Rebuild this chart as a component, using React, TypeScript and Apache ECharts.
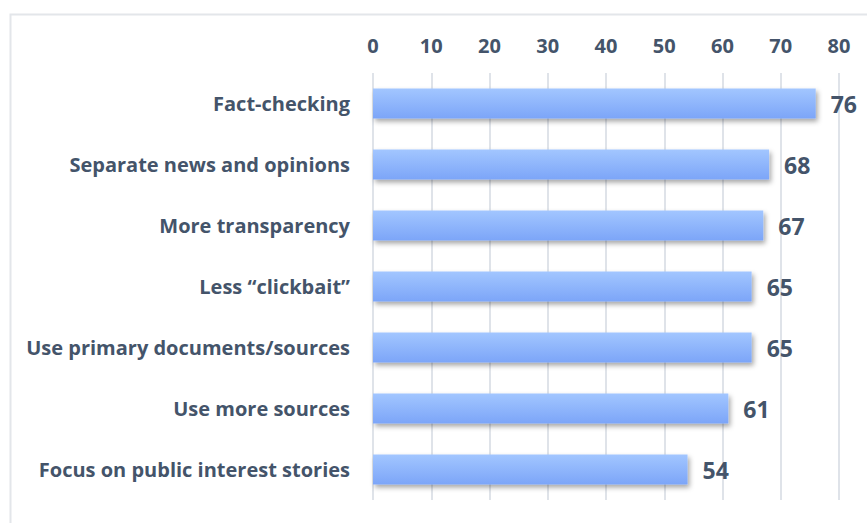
import React, { useEffect, useRef } from "react";
import * as echarts from "echarts";

const categories = [
  "Fact-checking",
  "Separate news and opinions",
  "More transparency",
  "Less \u201cclickbait\u201d",
  "Use primary documents/sources",
  "Use more sources",
  "Focus on public interest stories",
];
const values = [76, 68, 67, 65, 65, 61, 54];
const axisMin = 0;
const axisMax = 80;
const axisStep = 10;

const TEXT = "#44546a";
const FONT = "'Open Sans', Lato, sans-serif";

export default function App() {
  const ref = useRef<HTMLDivElement>(null);
  useEffect(() => {
    if (!ref.current) return;
    const chart = echarts.init(ref.current, undefined, { renderer: "svg" });
    chart.setOption({
      animation: false,
      backgroundColor: "#ffffff",
      graphic: [
        {
          type: "rect",
          left: 8,
          top: 12,
          shape: { x: 0, y: 0, width: 880, height: 530 },
          style: { fill: "none", stroke: "#e3e6ea", lineWidth: 2 },
          silent: true,
          z: -1,
        },
      ],
      grid: { left: 373, right: 28, top: 73, bottom: 23, containLabel: false },
      xAxis: {
        type: "value",
        position: "top",
        min: axisMin,
        max: axisMax,
        interval: axisStep,
        axisLine: { show: false },
        axisTick: { show: false },
        splitLine: { show: true, lineStyle: { color: "#dfe3e9", width: 2 } },
        axisLabel: {
          color: TEXT,
          fontFamily: FONT,
          fontWeight: "bold",
          fontSize: 20,
          margin: 18,
        },
      },
      yAxis: {
        type: "category",
        inverse: true,
        data: categories,
        axisLine: { show: false },
        axisTick: { show: false },
        splitLine: { show: false },
        axisLabel: {
          color: TEXT,
          fontFamily: FONT,
          fontWeight: "bold",
          fontSize: 20,
          margin: 23,
        },
      },
      series: [
        {
          type: "bar",
          data: values,
          barWidth: 30,
          itemStyle: {
            color: new echarts.graphic.LinearGradient(0, 0, 0, 1, [
              { offset: 0, color: "#a2c6ff" },
              { offset: 1, color: "#7ca5f8" },
            ]),
            shadowColor: "rgba(0,0,0,0.35)",
            shadowBlur: 5,
            shadowOffsetX: 2,
            shadowOffsetY: 3,
          },
          label: {
            show: true,
            position: "right",
            distance: 15,
            color: TEXT,
            fontFamily: FONT,
            fontWeight: "bold",
            fontSize: 23,
          },
        },
      ],
    });
    return () => chart.dispose();
  }, []);
  return (
    <div
      ref={ref}
      style={{ position: "fixed", left: 0, top: 0, width: 867, height: 523 }}
    />
  );
}
